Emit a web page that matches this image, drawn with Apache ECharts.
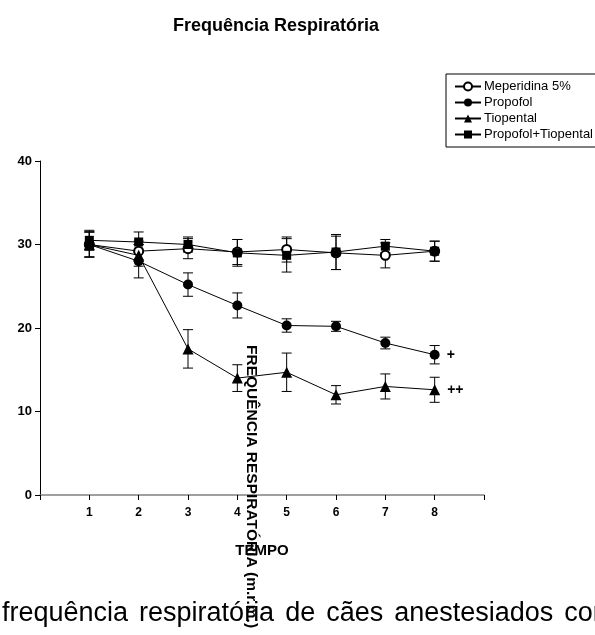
<!DOCTYPE html>
<html><head><meta charset="utf-8">
<script src="https://cdn.jsdelivr.net/npm/echarts@6/dist/echarts.min.js"></script>
<style>html,body{margin:0;padding:0;background:#fff;}#c{width:595px;height:635px;}</style>
</head><body><div id="c"></div>
<script>
const tempo = [1, 2, 3, 4, 5, 6, 7, 8];
const xTickLabels = ['1', '2', '3', '4', '5', '6', '7', '8'];
const yTicks = [0, 10, 20, 30, 40];
const seriesNames = ['Meperidina 5%', 'Propofol', 'Tiopental', 'Propofol+Tiopental'];
const meperidina = [30.0, 29.2, 29.5, 29.1, 29.4, 29.0, 28.7, 29.2];
const meperidinaErr = [1.5, 1.2, 1.2, 1.5, 1.5, 2.0, 1.5, 1.2];
const propofol = [30.0, 28.0, 25.2, 22.7, 20.3, 20.2, 18.2, 16.8];
const propofolErr = [1.5, 2.0, 1.4, 1.5, 0.8, 0.6, 0.7, 1.1];
const tiopental = [30.0, 28.7, 17.5, 14.0, 14.7, 12.0, 13.0, 12.6];
const tiopentalErr = [1.5, 1.3, 2.3, 1.6, 2.3, 1.1, 1.5, 1.5];
const propTio = [30.5, 30.3, 30.0, 29.0, 28.7, 29.1, 29.8, 29.2];
const propTioErr = [1.2, 1.2, 0.9, 1.6, 2.0, 2.1, 0.8, 1.2];
const markLabels = ['', '+', '++', ''];
const titleText = 'Frequência Respiratória';
const yName = 'FREQUÊNCIA RESPIRATÓRIA (m.r.m.)';
const xName = 'TEMPO';
const captionWords = ['frequência', 'respiratória', 'de', 'cães', 'anestesiados', 'cor'];

const FONT = 'Liberation Sans, Arial, sans-serif';
const chart = echarts.init(document.getElementById('c'), null, {renderer: 'canvas'});

const values = [meperidina, propofol, tiopental, propTio];
const errs = [meperidinaErr, propofolErr, tiopentalErr, propTioErr];
const symbols = ['emptyCircle', 'circle', 'triangle', 'rect'];
const symSizes = [9, 10, 11, 9];

const series = [];
values.forEach((vals, si) => {
  series.push({
    type: 'custom',
    silent: true,
    z: 1,
    data: tempo.map((t, i) => [t, vals[i] - errs[si][i], vals[i] + errs[si][i]]),
    renderItem: (params, api) => {
      const top = api.coord([api.value(0), api.value(2)]);
      const bot = api.coord([api.value(0), api.value(1)]);
      const w = 5;
      const st = {stroke: '#000', lineWidth: 1};
      return {type: 'group', children: [
        {type: 'line', shape: {x1: top[0], y1: top[1], x2: bot[0], y2: bot[1]}, style: st},
        {type: 'line', shape: {x1: top[0]-w, y1: top[1], x2: top[0]+w, y2: top[1]}, style: st},
        {type: 'line', shape: {x1: bot[0]-w, y1: bot[1], x2: bot[0]+w, y2: bot[1]}, style: st}
      ]};
    }
  });
});
values.forEach((vals, si) => {
  series.push({
    name: seriesNames[si],
    type: 'line',
    z: 3,
    symbol: symbols[si],
    symbolSize: symSizes[si],
    showSymbol: true,
    lineStyle: {color: '#000', width: 1},
    itemStyle: {color: '#000', borderColor: '#000', borderWidth: si === 0 ? 1.2 : 0},
    emphasis: {disabled: true},
    data: tempo.map((t, i) => {
      const d = {value: [t, vals[i]]};
      if (i === tempo.length - 1 && markLabels[si]) {
        d.label = {show: true, formatter: markLabels[si], position: 'right', distance: 7,
          fontFamily: FONT, fontWeight: 'bold', fontSize: 14, color: '#000'};
      }
      return d;
    })
  });
});

// caption words
const cv = document.createElement('canvas').getContext('2d');
const capSize = 27;
cv.font = capSize + 'px ' + FONT;
const capGap = 11;
let cx = 2;
const graphics = [];
captionWords.forEach(w => {
  graphics.push({type: 'text', left: cx, top: 600, style: {text: w, font: capSize + 'px ' + FONT, fill: '#000'}});
  cx += cv.measureText(w).width + capGap;
});
graphics.push({type: 'text', x: 251, y: 345, rotation: -Math.PI / 2,
  style: {text: yName, font: 'bold 15.5px ' + FONT, fill: '#000', textAlign: 'left', textVerticalAlign: 'middle'}, z: 10});

chart.setOption({
  animation: false,
  backgroundColor: '#fff',
  title: {text: titleText, left: 271, top: 12, textAlign: 'center',
    textStyle: {fontFamily: FONT, fontWeight: 'bold', fontSize: 18, color: '#000'}},
  legend: {
    data: seriesNames, orient: 'vertical', left: 446, top: 74,
    padding: [6, 10, 6, 8], itemGap: 3, itemWidth: 26, itemHeight: 10,
    borderColor: '#000', borderWidth: 1, borderRadius: 0,
    textStyle: {fontFamily: FONT, fontSize: 13, color: '#000', padding: [0, 0, 0, -2]}
  },
  grid: {left: 40, right: 111, top: 161, bottom: 140, containLabel: false},
  xAxis: {
    type: 'value', min: 0, max: 9, interval: 1,
    name: xName, nameLocation: 'middle', nameGap: 48,
    nameTextStyle: {fontFamily: FONT, fontWeight: 'bold', fontSize: 15, color: '#000'},
    axisLine: {lineStyle: {color: '#808080', width: 1.5}},
    axisTick: {show: true, length: 5, inside: false, lineStyle: {color: '#000'}},
    splitLine: {show: false},
    axisLabel: {fontFamily: FONT, fontWeight: 'bold', fontSize: 12, color: '#000', margin: 12,
      formatter: v => (v >= 1 && v <= 8) ? xTickLabels[v - 1] : ''}
  },
  yAxis: {
    type: 'value', min: yTicks[0], max: yTicks[yTicks.length - 1], interval: 10,
    axisLine: {show: true, lineStyle: {color: '#000', width: 1}},
    axisTick: {show: true, length: 5, inside: false, lineStyle: {color: '#000'}},
    splitLine: {show: false},
    axisLabel: {fontFamily: FONT, fontWeight: 'bold', fontSize: 13, color: '#000', margin: 8}
  },
  graphic: graphics,
  series: series
});
</script></body></html>
